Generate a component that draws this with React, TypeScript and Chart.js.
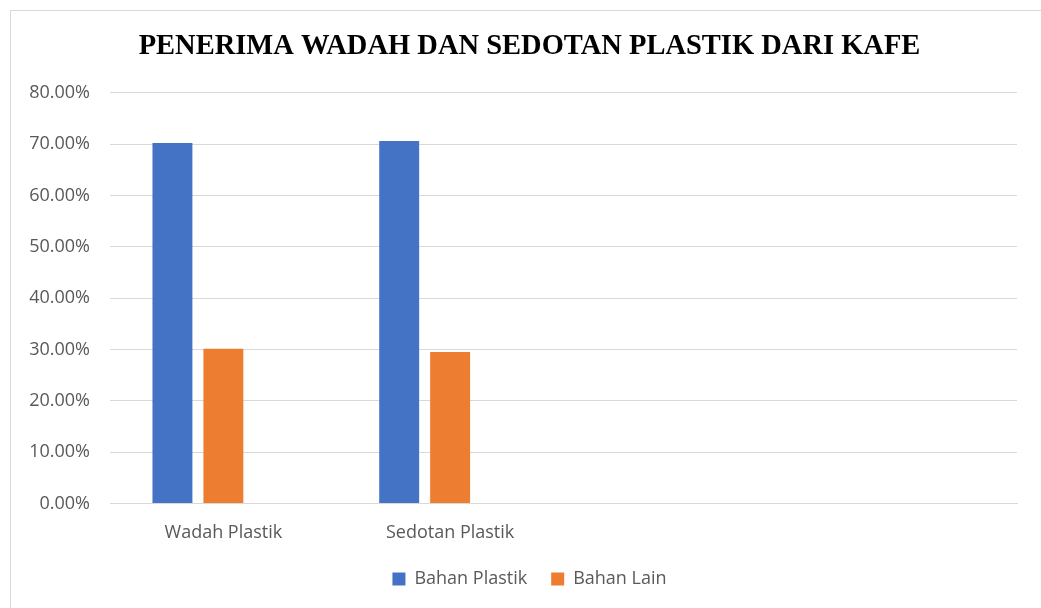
import React, { useEffect, useRef } from "react";
import { Chart, registerables } from "chart.js";

Chart.register(...registerables);

const categories = ["Wadah Plastik", "Sedotan Plastik", "", ""];
const seriesNames = ["Bahan Plastik", "Bahan Lain", ""];
const bahanPlastik = [70.2, 70.6, null, null];
const bahanLain = [30.1, 29.5, null, null];
const spacerSeries = [null, null, null, null];
const yTicks = [0, 10, 20, 30, 40, 50, 60, 70, 80];
const title = "PENERIMA WADAH DAN SEDOTAN PLASTIK DARI KAFE";

export default function App() {
  const ref = useRef<HTMLCanvasElement>(null);
  useEffect(() => {
    if (!ref.current) return;
    const sans = "'Open Sans', 'Liberation Sans', sans-serif";
    const chart = new Chart(ref.current, {
      type: "bar",
      data: {
        labels: categories,
        datasets: [
          { label: seriesNames[0], data: bahanPlastik, backgroundColor: "#4472C4" },
          { label: seriesNames[1], data: bahanLain, backgroundColor: "#ED7D31" },
          { label: seriesNames[2], data: spacerSeries, backgroundColor: "#A5A5A5" },
        ],
      },
      options: {
        responsive: false,
        animation: false,
        maintainAspectRatio: false,
        datasets: { bar: { categoryPercentage: 0.674, barPercentage: 0.784 } },
        layout: { padding: { left: 31, right: 34, top: 0, bottom: 10 } },
        plugins: {
          title: {
            display: true,
            text: title,
            color: "#000000",
            font: { family: "'Liberation Serif', 'Times New Roman', serif", size: 28.5, weight: "bold" },
            padding: { top: 18.5, bottom: 29 },
          },
          legend: {
            position: "bottom",
            labels: {
              filter: (item) => item.text !== "",
              color: "#595959",
              font: { family: sans, size: 18 },
              boxWidth: 13,
              boxHeight: 13,
              padding: 24,
            },
          },
          tooltip: { enabled: false },
        },
        scales: {
          x: {
            grid: { display: false },
            border: { display: true, color: "#d9d9d9", width: 1 },
            ticks: { color: "#595959", font: { family: sans, size: 18 }, padding: 11, maxRotation: 0 },
            afterFit: (scale) => {
              scale.height = scale.height - 9;
            },
          },
          y: {
            min: 0,
            max: 80,
            afterBuildTicks: (scale) => {
              scale.ticks = yTicks.map((v) => ({ value: v }));
            },
            afterFit: (scale: any) => {
              scale.width = 68;
              // let the tick labels extend into the left padding without clipping
              scale._computeLabelArea = () => undefined;
            },
            grid: { color: "#d9d9d9", lineWidth: 1, drawTicks: false },
            border: { display: false },
            ticks: {
              color: "#595959",
              font: { family: sans, size: 18 },
              padding: 20,
              callback: (v) => Number(v).toFixed(2) + "%",
            },
          },
        },
      },
    });
    return () => chart.destroy();
  }, []);
  return (
    <div style={{ position: "fixed", left: 0, top: 0, width: 1041, height: 608, overflow: "hidden", background: "#fff" }}>
      <div
        style={{
          position: "absolute",
          left: 10,
          top: 10,
          width: 1040,
          height: 600,
          borderTop: "1px solid #d9d9d9",
          borderLeft: "1px solid #d9d9d9",
        }}
      >
        <canvas ref={ref} width={1040} height={597} style={{ display: "block" }} />
      </div>
    </div>
  );
}
